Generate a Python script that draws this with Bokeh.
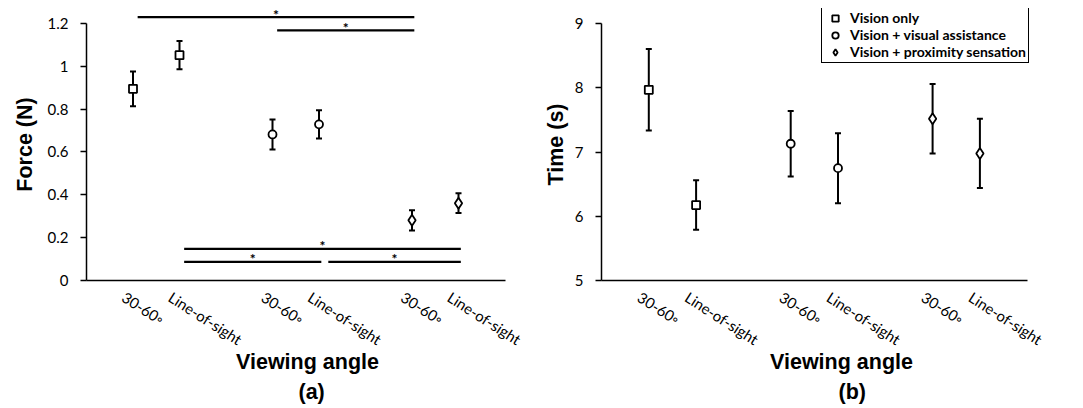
from bokeh.plotting import figure
from bokeh.layouts import row
from bokeh.models import (Range1d, FixedTicker, CustomJSTickFormatter, Whisker, TeeHead,
                          ColumnDataSource, Title)
from bokeh.core.properties import value
from bokeh.embed import file_html
from bokeh.resources import INLINE

# ---------------- data ----------------
groups = ["Vision only", "Vision + visual assistance", "Vision + proximity sensation"]
angles = ["30-60\u25e6", "Line-of-sight"]

# order: (group 0, angle 0), (group 0, angle 1), (group 1, angle 0), ...
force_mean = [0.895, 1.052, 0.682, 0.729, 0.281, 0.361]
force_err = [0.081, 0.066, 0.070, 0.066, 0.047, 0.046]
time_mean = [7.97, 6.175, 7.13, 6.75, 7.52, 6.98]
time_err = [0.635, 0.385, 0.51, 0.545, 0.54, 0.54]

force_ticks = [0, 0.2, 0.4, 0.6, 0.8, 1.0, 1.2]
time_ticks = [5, 6, 7, 8, 9]

# significance comparisons on force (condition indices) and bar heights
sig_a = [0, 2, 1, 1, 3]
sig_b = [4, 4, 5, 3, 5]
sig_y = [1.23, 1.168, 0.148, 0.087, 0.087]

# ---------------- styling ----------------
markers = ["square", "circle", "diamond"]
marker_sizes = [8, 8, 11]
TICK_FONT = "Lato"
TITLE_FONT = "Liberation Sans"
TITLE_SIZE = "21.5px"
LABEL_SHIFT = -0.2   # tick label anchor shift (x units)


def xpos(i):
    g, a = divmod(i, 2)
    return 3 * g + a


xs = [xpos(i) for i in range(len(force_mean))]
label_ticks = [x + LABEL_SHIFT for x in xs]
tick_overrides = {t: angles[i % 2] for i, t in enumerate(label_ticks)}


def make_fig(means, errs, yr, ybounds, yticks, ylabel, ylab_so, sub, width, frame_w,
             bl, unit_px, sub_off, legend):
    xr_end = -1 + frame_w / unit_px
    p = figure(width=width, height=408, output_backend="svg", toolbar_location=None,
               title=None, x_range=Range1d(-1, xr_end), y_range=Range1d(*yr),
               min_border_left=bl, min_border_right=width - bl - frame_w,
               min_border_top=8, min_border_bottom=128)
    p.outline_line_color = None
    p.grid.visible = False
    p.background_fill_color = "white"
    p.border_fill_color = "white"

    lo = [m - e for m, e in zip(means, errs)]
    hi = [m + e for m, e in zip(means, errs)]
    src = ColumnDataSource(dict(x=xs, y=means, lo=lo, hi=hi))
    w = Whisker(base="x", lower="lo", upper="hi", source=src, dimension="height",
                line_width=2, line_color="black", level="underlay",
                upper_head=TeeHead(size=6, line_width=2, line_color="black"),
                lower_head=TeeHead(size=6, line_width=2, line_color="black"))
    p.add_layout(w)

    for g, name in enumerate(groups):
        idx = [2 * g, 2 * g + 1]
        kw = dict(legend_label=name) if legend else {}
        p.scatter([xs[i] for i in idx], [means[i] for i in idx], marker=markers[g],
                  size=marker_sizes[g], fill_color="white", line_color="black",
                  line_width=1.8, **kw)

    xa = p.xaxis[0]
    xa.bounds = (-1, 8)
    xa.ticker = FixedTicker(ticks=label_ticks)
    xa.major_label_overrides = tick_overrides
    xa.major_label_orientation = -0.57
    xa.major_tick_out = 0
    xa.major_tick_in = 0
    xa.minor_tick_out = 0
    xa.minor_tick_in = 0
    xa.axis_line_width = 1.5
    xa.axis_line_color = "black"
    xa.major_label_text_font = TICK_FONT
    xa.major_label_text_font_size = "15px"
    xa.major_label_text_color = "black"
    xa.major_label_standoff = 15
    xa.axis_label = "Viewing angle"
    xa.axis_label_text_font = TITLE_FONT
    xa.axis_label_text_font_size = TITLE_SIZE
    xa.axis_label_text_font_style = "bold"
    xa.axis_label_text_color = "black"
    xa.axis_label_standoff = -9

    ya = p.yaxis[0]
    ya.bounds = ybounds
    ya.ticker = FixedTicker(ticks=yticks)
    ya.minor_tick_out = 0
    ya.minor_tick_in = 0
    ya.major_tick_in = 0
    ya.major_tick_out = 6
    ya.major_tick_line_width = 1.5
    ya.major_tick_line_color = "black"
    ya.axis_line_width = 1.5
    ya.axis_line_color = "black"
    ya.major_label_text_font = TICK_FONT
    ya.major_label_text_font_size = "15px"
    ya.major_label_text_color = "black"
    ya.major_label_standoff = 12

    yt = Title(text=ylabel, align="center", text_font=TITLE_FONT,
               text_font_size=TITLE_SIZE, text_font_style="bold", text_color="black",
               standoff=ylab_so)
    p.add_layout(yt, "left")

    t = Title(text=sub, align="left", offset=sub_off, text_font=TITLE_FONT,
              text_font_size=TITLE_SIZE, text_font_style="bold", text_color="black",
              standoff=2)
    p.add_layout(t, "below")
    return p


p1 = make_fig(force_mean, force_err, (0, 1.27), (0, 1.2), force_ticks, "Force (N)", 16, "(a)",
              530, 442, 86, 46.5, 212, False)
p1.yaxis[0].formatter = CustomJSTickFormatter(code="return (Math.round(tick*10)/10).toString();")

# significance bars
x0 = []
for k in range(len(sig_a)):
    s = xpos(sig_a[k]) + 0.1
    for j in range(len(sig_a)):
        if j != k and sig_y[j] == sig_y[k] and sig_b[j] == sig_a[k]:
            s += 0.1
    x0.append(s)
x1 = [xpos(b) + 0.05 for b in sig_b]
p1.segment(x0=x0, y0=sig_y, x1=x1, y1=sig_y, line_color="black", line_width=2.2)
p1.text(x=[(a + b) / 2 for a, b in zip(x0, x1)], y=sig_y, text=["*"] * len(sig_y),
        text_font=value(TICK_FONT), text_font_size="14px", text_font_style="bold",
        text_align="center", text_baseline="middle", text_color="black", y_offset=-3)

p2 = make_fig(time_mean, time_err, (5, 5 + 272 / 64.2), (5, 9), time_ticks, "Time (s)", 8, "(b)",
              553, 480, 71, 47.3, 237, True)

leg = p2.legend[0]
leg.location = (220, 217)
leg.margin = 0
leg.padding = 2
leg.spacing = 0
leg.label_height = 16
leg.glyph_height = 16
leg.glyph_width = 22
leg.label_standoff = 4
leg.border_line_color = "black"
leg.border_line_width = 1.5
leg.border_line_alpha = 1
leg.background_fill_alpha = 1
leg.label_text_font = TICK_FONT
leg.label_text_font_style = "bold"
leg.label_text_font_size = "14px"
leg.label_text_color = "black"

layout = row(p1, p2, spacing=0)
open("out.html", "w").write(file_html(layout, INLINE))
